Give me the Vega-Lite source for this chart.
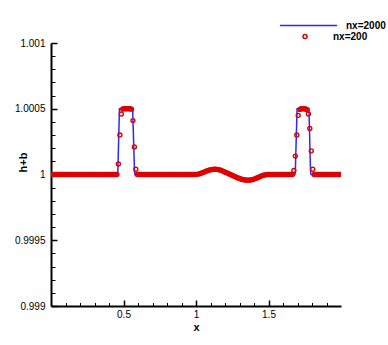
{
  "$schema": "https://vega.github.io/schema/vega-lite/v6.json",
  "width": 290,
  "height": 263,
  "autosize": {"type": "none"},
  "padding": {"left": 51, "top": 43, "right": 47, "bottom": 39},
  "config": {
    "view": {"stroke": null},
    "font": "Liberation Sans",
    "axis": {
      "grid": false,
      "domainColor": "black",
      "domainWidth": 2,
      "tickColor": "black",
      "labelColor": "black",
      "labelFont": "Liberation Sans",
      "labelFontSize": 10,
      "titleFont": "Liberation Sans",
      "titleFontSize": 11,
      "titleFontWeight": "bold",
      "titleColor": "black"
    }
  },
  "datasets": {
    "fine": [
      {"x": 0, "y": 1}, {"x": 0.458, "y": 1}, {"x": 0.461, "y": 1.00002}, {"x": 0.472, "y": 1.0005},
      {"x": 0.563, "y": 1.0005}, {"x": 0.576, "y": 1.00002}, {"x": 0.579, "y": 1},
      {"x": 1.0, "y": 1}, {"x": 1.025, "y": 1.000006}, {"x": 1.055, "y": 1.000018}, {"x": 1.085, "y": 1.000031},
      {"x": 1.105, "y": 1.000037}, {"x": 1.13, "y": 1.00004}, {"x": 1.155, "y": 1.000037}, {"x": 1.185, "y": 1.000026},
      {"x": 1.215, "y": 1.000011}, {"x": 1.245, "y": 0.999996}, {"x": 1.275, "y": 0.999981}, {"x": 1.305, "y": 0.999968},
      {"x": 1.335, "y": 0.999959}, {"x": 1.36, "y": 0.999957}, {"x": 1.385, "y": 0.99996}, {"x": 1.415, "y": 0.999971},
      {"x": 1.445, "y": 0.999986}, {"x": 1.475, "y": 0.999997}, {"x": 1.5, "y": 1},
      {"x": 1.682, "y": 1}, {"x": 1.685, "y": 1.00002}, {"x": 1.697, "y": 1.0005},
      {"x": 1.779, "y": 1.0005}, {"x": 1.79, "y": 1.00002}, {"x": 1.793, "y": 1}, {"x": 2, "y": 1}
    ],
    "coarse": [
      {"x": 0.005, "y": 1}, {"x": 0.015, "y": 1}, {"x": 0.025, "y": 1}, {"x": 0.035, "y": 1}, {"x": 0.045, "y": 1},
      {"x": 0.055, "y": 1}, {"x": 0.065, "y": 1}, {"x": 0.075, "y": 1}, {"x": 0.085, "y": 1}, {"x": 0.095, "y": 1},
      {"x": 0.105, "y": 1}, {"x": 0.115, "y": 1}, {"x": 0.125, "y": 1}, {"x": 0.135, "y": 1}, {"x": 0.145, "y": 1},
      {"x": 0.155, "y": 1}, {"x": 0.165, "y": 1}, {"x": 0.175, "y": 1}, {"x": 0.185, "y": 1}, {"x": 0.195, "y": 1},
      {"x": 0.205, "y": 1}, {"x": 0.215, "y": 1}, {"x": 0.225, "y": 1}, {"x": 0.235, "y": 1}, {"x": 0.245, "y": 1},
      {"x": 0.255, "y": 1}, {"x": 0.265, "y": 1}, {"x": 0.275, "y": 1}, {"x": 0.285, "y": 1}, {"x": 0.295, "y": 1},
      {"x": 0.305, "y": 1}, {"x": 0.315, "y": 1}, {"x": 0.325, "y": 1}, {"x": 0.335, "y": 1}, {"x": 0.345, "y": 1},
      {"x": 0.355, "y": 1}, {"x": 0.365, "y": 1}, {"x": 0.375, "y": 1}, {"x": 0.385, "y": 1}, {"x": 0.395, "y": 1},
      {"x": 0.405, "y": 1}, {"x": 0.415, "y": 1}, {"x": 0.425, "y": 1}, {"x": 0.435, "y": 1}, {"x": 0.445, "y": 1},
      {"x": 0.455, "y": 1}, {"x": 0.465, "y": 1.00008}, {"x": 0.475, "y": 1.0003}, {"x": 0.485, "y": 1.00046}, {"x": 0.495, "y": 1.000498},
      {"x": 0.505, "y": 1.0005}, {"x": 0.515, "y": 1.0005}, {"x": 0.525, "y": 1.0005}, {"x": 0.535, "y": 1.0005}, {"x": 0.545, "y": 1.0005},
      {"x": 0.555, "y": 1.000497}, {"x": 0.565, "y": 1.00041}, {"x": 0.575, "y": 1.00021}, {"x": 0.585, "y": 1.00004}, {"x": 0.595, "y": 1},
      {"x": 0.605, "y": 1}, {"x": 0.615, "y": 1}, {"x": 0.625, "y": 1}, {"x": 0.635, "y": 1}, {"x": 0.645, "y": 1},
      {"x": 0.655, "y": 1}, {"x": 0.665, "y": 1}, {"x": 0.675, "y": 1}, {"x": 0.685, "y": 1}, {"x": 0.695, "y": 1},
      {"x": 0.705, "y": 1}, {"x": 0.715, "y": 1}, {"x": 0.725, "y": 1}, {"x": 0.735, "y": 1}, {"x": 0.745, "y": 1},
      {"x": 0.755, "y": 1}, {"x": 0.765, "y": 1}, {"x": 0.775, "y": 1}, {"x": 0.785, "y": 1}, {"x": 0.795, "y": 1},
      {"x": 0.805, "y": 1}, {"x": 0.815, "y": 1}, {"x": 0.825, "y": 1}, {"x": 0.835, "y": 1}, {"x": 0.845, "y": 1},
      {"x": 0.855, "y": 1}, {"x": 0.865, "y": 1}, {"x": 0.875, "y": 1}, {"x": 0.885, "y": 1}, {"x": 0.895, "y": 1},
      {"x": 0.905, "y": 1}, {"x": 0.915, "y": 1}, {"x": 0.925, "y": 1}, {"x": 0.935, "y": 1}, {"x": 0.945, "y": 1},
      {"x": 0.955, "y": 1}, {"x": 0.965, "y": 1}, {"x": 0.975, "y": 1}, {"x": 0.985, "y": 1}, {"x": 0.995, "y": 1},
      {"x": 1.005, "y": 1.000001}, {"x": 1.015, "y": 1.000003}, {"x": 1.025, "y": 1.000006}, {"x": 1.035, "y": 1.00001}, {"x": 1.045, "y": 1.000014},
      {"x": 1.055, "y": 1.000018}, {"x": 1.065, "y": 1.000023}, {"x": 1.075, "y": 1.000027}, {"x": 1.085, "y": 1.000031}, {"x": 1.095, "y": 1.000034},
      {"x": 1.105, "y": 1.000037}, {"x": 1.115, "y": 1.000039}, {"x": 1.125, "y": 1.00004}, {"x": 1.135, "y": 1.00004}, {"x": 1.145, "y": 1.000039},
      {"x": 1.155, "y": 1.000037}, {"x": 1.165, "y": 1.000034}, {"x": 1.175, "y": 1.00003}, {"x": 1.185, "y": 1.000026}, {"x": 1.195, "y": 1.000021},
      {"x": 1.205, "y": 1.000016}, {"x": 1.215, "y": 1.000011}, {"x": 1.225, "y": 1.000006}, {"x": 1.235, "y": 1.000001}, {"x": 1.245, "y": 0.999996},
      {"x": 1.255, "y": 0.999991}, {"x": 1.265, "y": 0.999986}, {"x": 1.275, "y": 0.999981}, {"x": 1.285, "y": 0.999976}, {"x": 1.295, "y": 0.999972},
      {"x": 1.305, "y": 0.999968}, {"x": 1.315, "y": 0.999964}, {"x": 1.325, "y": 0.999961}, {"x": 1.335, "y": 0.999959}, {"x": 1.345, "y": 0.999958},
      {"x": 1.355, "y": 0.999957}, {"x": 1.365, "y": 0.999957}, {"x": 1.375, "y": 0.999958}, {"x": 1.385, "y": 0.99996}, {"x": 1.395, "y": 0.999963},
      {"x": 1.405, "y": 0.999967}, {"x": 1.415, "y": 0.999971}, {"x": 1.425, "y": 0.999976}, {"x": 1.435, "y": 0.999981}, {"x": 1.445, "y": 0.999986},
      {"x": 1.455, "y": 0.99999}, {"x": 1.465, "y": 0.999994}, {"x": 1.475, "y": 0.999997}, {"x": 1.485, "y": 0.999999}, {"x": 1.495, "y": 1},
      {"x": 1.505, "y": 1}, {"x": 1.515, "y": 1}, {"x": 1.525, "y": 1}, {"x": 1.535, "y": 1}, {"x": 1.545, "y": 1},
      {"x": 1.555, "y": 1}, {"x": 1.565, "y": 1}, {"x": 1.575, "y": 1}, {"x": 1.585, "y": 1}, {"x": 1.595, "y": 1},
      {"x": 1.605, "y": 1}, {"x": 1.615, "y": 1}, {"x": 1.625, "y": 1}, {"x": 1.635, "y": 1}, {"x": 1.645, "y": 1},
      {"x": 1.655, "y": 1}, {"x": 1.665, "y": 1}, {"x": 1.675, "y": 1.00003}, {"x": 1.685, "y": 1.00014}, {"x": 1.695, "y": 1.0003},
      {"x": 1.705, "y": 1.00045}, {"x": 1.715, "y": 1.000495}, {"x": 1.725, "y": 1.0005}, {"x": 1.735, "y": 1.0005}, {"x": 1.745, "y": 1.0005},
      {"x": 1.755, "y": 1.000498}, {"x": 1.765, "y": 1.000495}, {"x": 1.775, "y": 1.00046}, {"x": 1.785, "y": 1.00035}, {"x": 1.795, "y": 1.00018},
      {"x": 1.805, "y": 1.00004}, {"x": 1.815, "y": 1}, {"x": 1.825, "y": 1}, {"x": 1.835, "y": 1}, {"x": 1.845, "y": 1},
      {"x": 1.855, "y": 1}, {"x": 1.865, "y": 1}, {"x": 1.875, "y": 1}, {"x": 1.885, "y": 1}, {"x": 1.895, "y": 1},
      {"x": 1.905, "y": 1}, {"x": 1.915, "y": 1}, {"x": 1.925, "y": 1}, {"x": 1.935, "y": 1}, {"x": 1.945, "y": 1},
      {"x": 1.955, "y": 1}, {"x": 1.965, "y": 1}, {"x": 1.975, "y": 1}, {"x": 1.985, "y": 1}, {"x": 1.995, "y": 1}
    ]
  },
  "encoding": {
    "x": {
      "field": "x", "type": "quantitative",
      "scale": {"domain": [0, 2], "nice": false, "zero": false},
      "axis": {
        "title": "x",
        "titleX": 145,
        "titleY": 21,
        "titleBaseline": "middle",
        "values": [0.1, 0.2, 0.3, 0.4, 0.5, 0.6, 0.7, 0.8, 0.9, 1, 1.1, 1.2, 1.3, 1.4, 1.5, 1.6, 1.7, 1.8, 1.9],
        "labelExpr": "abs(datum.value*2 - round(datum.value*2)) < 1e-6 ? format(datum.value, '~g') : ''",
        "tickSize": {"condition": {"test": "abs(datum.value*2 - round(datum.value*2)) < 1e-6", "value": -6}, "value": -3.5},
        "tickWidth": {"condition": {"test": "abs(datum.value*2 - round(datum.value*2)) < 1e-6", "value": 1.5}, "value": 1},
        "labelPadding": 9,
        "labelFlush": false,
        "labelOverlap": false
      }
    },
    "y": {
      "field": "y", "type": "quantitative",
      "scale": {"domain": [0.999, 1.001], "nice": false, "zero": false},
      "axis": {
        "title": "h+b",
        "titleX": -28,
        "titleY": 119,
        "titleBaseline": "middle",
        "titleAlign": "center",
        "values": [0.999, 0.9991, 0.9992, 0.9993, 0.9994, 0.9995, 0.9996, 0.9997, 0.9998, 0.9999, 1, 1.0001, 1.0002, 1.0003, 1.0004, 1.0005, 1.0006, 1.0007, 1.0008, 1.0009, 1.001],
        "labelExpr": "abs(datum.value*2000 - round(datum.value*2000)) < 1e-6 ? format(datum.value, '~g') : ''",
        "tickSize": {"condition": {"test": "abs(datum.value*2000 - round(datum.value*2000)) < 1e-6", "value": -6}, "value": -4},
        "tickWidth": {"condition": {"test": "abs(datum.value*2000 - round(datum.value*2000)) < 1e-6", "value": 1.5}, "value": 1},
        "labelPadding": 12,
        "labelFlush": false,
        "labelOverlap": false
      }
    }
  },
  "layer": [
    {
      "data": {"name": "fine"},
      "mark": {"type": "line", "strokeWidth": 1.5, "clip": true},
      "encoding": {
        "color": {
          "datum": "nx=2000",
          "scale": {"domain": ["nx=2000"], "range": ["#2a2aff"]},
          "legend": {
            "orient": "none", "legendX": 228, "legendY": -23, "title": null,
            "symbolType": "stroke", "symbolSize": 3270, "symbolStrokeWidth": 1.5,
            "clipHeight": 11, "padding": 0,
            "labelFont": "Liberation Sans", "labelFontSize": 10, "labelFontWeight": "bold",
            "labelOffset": 8, "labelColor": "black"
          }
        }
      }
    },
    {
      "data": {"name": "coarse"},
      "mark": {"type": "point", "shape": "circle", "filled": false, "size": 16, "strokeWidth": 1.4, "opacity": 1, "clip": true},
      "encoding": {
        "stroke": {
          "datum": "nx=200",
          "scale": {"domain": ["nx=200"], "range": ["#e00000"]},
          "legend": {
            "orient": "none", "legendX": 249, "legendY": -12, "title": null,
            "symbolType": "circle", "symbolSize": 16, "symbolStrokeWidth": 1.5, "symbolFillColor": "transparent",
            "clipHeight": 11, "padding": 0,
            "labelFont": "Liberation Sans", "labelFontSize": 10, "labelFontWeight": "bold",
            "labelOffset": 23, "labelColor": "black"
          }
        }
      }
    }
  ]
}
